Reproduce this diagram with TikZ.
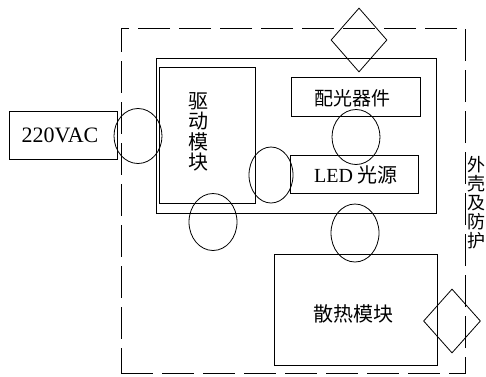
\documentclass[tikz,border=0pt]{standalone}
\usepackage{fontspec}
\setmainfont{Liberation Serif}
\newfontfamily\cjk{Noto Sans CJK SC}
\usetikzlibrary{shapes.geometric}
\begin{document}
\begin{tikzpicture}[x=1pt,y=-1pt,line width=0.8pt,
  box/.style={draw,rectangle,inner sep=0pt},
  ring/.style={draw,ellipse,inner sep=0pt},
  dia/.style={draw,diamond,inner sep=0pt},
  lbl/.style={inner sep=0pt,font=\cjk\fontsize{19}{20}\selectfont}]
\useasboundingbox (0,0) rectangle (486,376);
% housing
\node[box,dash pattern=on 32pt off 9pt,minimum width=344pt,minimum height=345pt] (housing) at (293,200.5) {};
% inner module
\node[box,minimum width=280pt,minimum height=155pt] (inner) at (296,135.5) {};
% boxes
\node[box,minimum width=108pt,minimum height=48pt] (ac) at (63,135) {};
\node[inner sep=0pt,font=\fontsize{22}{24}\selectfont] (actxt) at (60,135) {220VAC};
\node[box,minimum width=96pt,minimum height=136pt] (drv) at (207,135) {};
\node[lbl,align=center,font=\cjk\fontsize{20}{20.5}\selectfont] (drvtxt) at (198,132) {驱\\动\\模\\块};
\node[box,minimum width=129pt,minimum height=39pt] (opt) at (355.5,96.5) {};
\node[lbl] (opttxt) at (352,98) {配光器件};
\node[box,minimum width=128pt,minimum height=38pt] (led) at (354,174) {};
\node[inner sep=0pt,font=\fontsize{20}{22}\selectfont] (ledtxt) at (356,175) {LED {\cjk 光源}};
\node[box,minimum width=163pt,minimum height=111pt] (heat) at (355.5,309.5) {};
\node[lbl,font=\cjk\fontsize{20}{22}\selectfont] (heattxt) at (353,314) {散热模块};
% interfaces
\node[ring,minimum width=48pt,minimum height=55pt] (e1) at (138,136) {};
\node[ring,minimum width=48pt,minimum height=55pt] (e2) at (356,137) {};
\node[ring,minimum width=44pt,minimum height=56pt] (e3) at (271,175) {};
\node[ring,minimum width=48pt,minimum height=57pt] (e4) at (213,222) {};
\node[ring,minimum width=48pt,minimum height=58pt] (e5) at (355,233) {};
% diamonds
\node[dia,minimum width=56pt,minimum height=64pt] (d1) at (359,40) {};
\node[dia,minimum width=57pt,minimum height=64pt] (d2) at (452,321) {};
% vertical label
\node[lbl,align=center,font=\cjk\fontsize{18}{19}\selectfont] (case) at (476,203) {外\\壳\\及\\防\\护};
\end{tikzpicture}
\end{document}
